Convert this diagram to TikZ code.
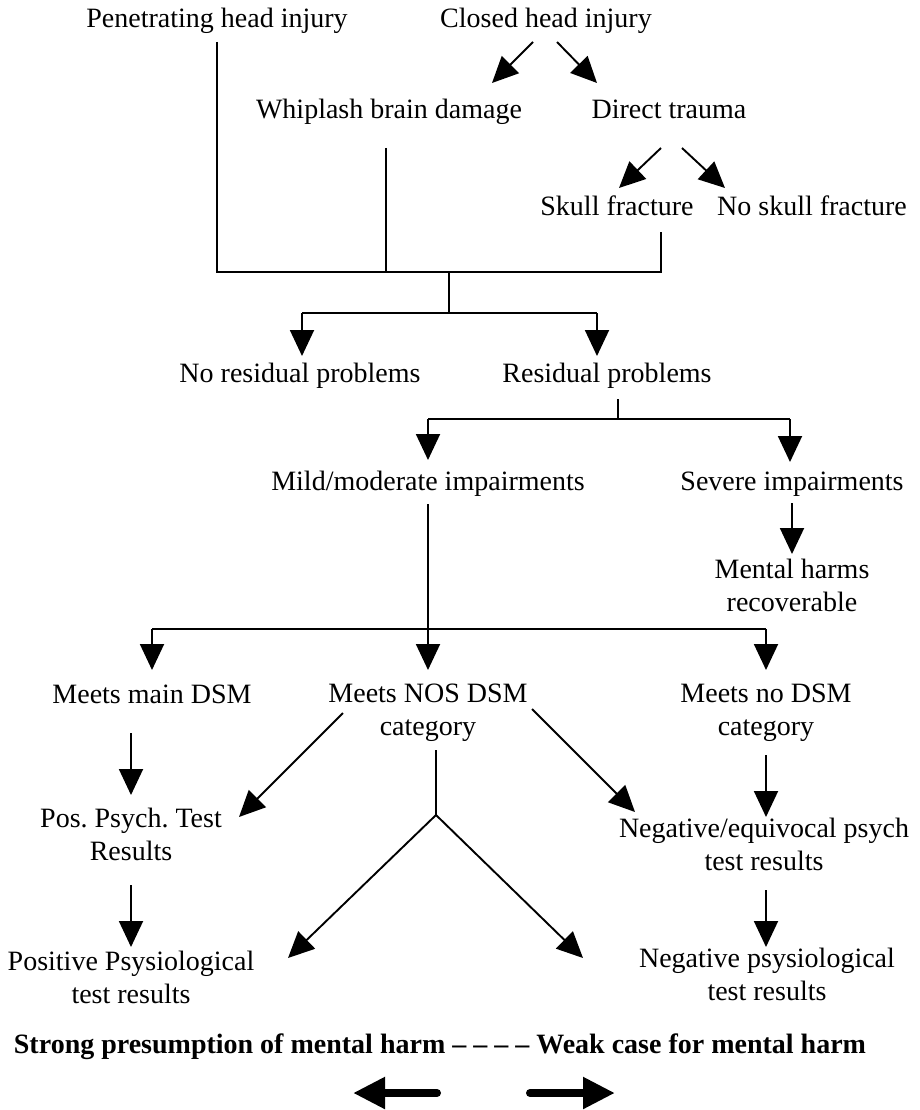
\documentclass[tikz,border=0pt]{standalone}
\usepackage{fontspec}
\setmainfont{Liberation Serif}
\usetikzlibrary{arrows.meta}
\frenchspacing
\begin{document}
\begin{tikzpicture}[x=1pt,y=-1pt,
  lbl/.style={anchor=base,inner sep=0pt,align=center,font=\fontsize{28}{33}\selectfont},
  legend/.style={anchor=base,inner sep=0pt,font=\fontsize{28}{33}\selectfont\bfseries},
  wire/.style={line width=1.9pt},
  arr/.style={wire,-{Triangle[length=26pt,width=24pt]}},
  fatarr/.style={line width=8pt,line cap=round,-{Triangle[length=32pt,width=30pt]}}]
\useasboundingbox (0,0) rectangle (920,1110);

% ---- labels (two-line labels are placed by the baseline of their last line) ----
\node[lbl] (pen)     at (217,28)  {Penetrating head injury};
\node[lbl] (closed)  at (546,28)  {Closed head injury};
\node[lbl] (whip)    at (389,119) {Whiplash brain damage};
\node[lbl] (direct)  at (669,119) {Direct trauma};
\node[lbl] (skull)   at (617,215) {Skull fracture};
\node[lbl] (noskull) at (812,215) {No skull fracture};
\node[lbl] (nores)   at (300,382) {No residual problems};
\node[lbl] (res)     at (607,382) {Residual problems};
\node[lbl] (mild)    at (428,490) {Mild/moderate impairments};
\node[lbl] (severe)  at (792,490) {Severe impairments};
\node[lbl] (mental)  at (792,611) {Mental harms\\recoverable};
\node[lbl] (main)    at (152,703) {Meets main DSM};
\node[lbl] (nos)     at (428,735) {Meets NOS DSM\\category};
\node[lbl] (nodsm)   at (766,735) {Meets no DSM\\category};
\node[lbl] (pos)     at (131,860) {Pos. Psych. Test\\Results};
\node[lbl] (negeq)   at (764,870) {Negative/equivocal psych\\test results};
\node[lbl] (posphys) at (131,1003) {Positive Psysiological\\test results};
\node[lbl] (negphys) at (767,1000) {Negative psysiological\\test results};
\node[legend] (scale) at (440,1053) {Strong presumption of mental harm – – – – Weak case for mental harm};

% ---- connector end points ----
\coordinate (penB)   at (217,42);
\coordinate (whipB)  at (386,148);
\coordinate (skullB) at (661,232);
\coordinate (mergeL) at (217,272);
\coordinate (mergeW) at (386,272);
\coordinate (mergeR) at (661,272);
\coordinate (mergeC) at (449,272);
\coordinate (splitA) at (449,313);
\coordinate (splitL) at (302,313);
\coordinate (splitR) at (597,313);
\coordinate (noresT) at (302,356);
\coordinate (resT)   at (597,356);

\coordinate (closedL) at (533,42);
\coordinate (closedR) at (557,42);
\coordinate (whipT)   at (492,83);
\coordinate (directT) at (597,83);
\coordinate (directL) at (661,148);
\coordinate (directR) at (682,148);
\coordinate (skullT)  at (619,188);
\coordinate (noskullT) at (725,188);

\coordinate (resB)   at (618,399);
\coordinate (splitB) at (618,419);
\coordinate (splitBL) at (428,419);
\coordinate (splitBR) at (790,419);
\coordinate (mildT)  at (428,460);
\coordinate (severeT) at (790,462);
\coordinate (severeB) at (792,503);
\coordinate (mentalT) at (792,554);

\coordinate (mildB)  at (428,504);
\coordinate (splitC) at (428,629);
\coordinate (splitCL) at (152,629);
\coordinate (splitCR) at (766,629);
\coordinate (mainT)  at (152,670);
\coordinate (nosT)   at (428,670);
\coordinate (nodsmT) at (766,670);

\coordinate (mainB)  at (131,733);
\coordinate (posT)   at (131,795);
\coordinate (nosL)   at (343,713);
\coordinate (posR)   at (239,817);
\coordinate (nosR)   at (532,709);
\coordinate (negeqL) at (635,812);
\coordinate (nosB)   at (436,750);
\coordinate (fork)   at (436,815);
\coordinate (forkL)  at (288,958);
\coordinate (forkR)  at (583,958);
\coordinate (nodsmB) at (766,755);
\coordinate (negeqT) at (766,817);
\coordinate (posB)   at (131,885);
\coordinate (posphysT) at (131,947);
\coordinate (negeqB) at (766,890);
\coordinate (negphysT) at (766,947);

\coordinate (strongS) at (437,1093);
\coordinate (strongE) at (353,1093);
\coordinate (weakS)   at (530,1093);
\coordinate (weakE)   at (615,1093);

% ---- head injury merge ----
\draw[wire] (penB) -- (mergeL) -- (mergeR) -- (skullB);
\draw[wire] (whipB) -- (mergeW);
\draw[wire] (mergeC) -- (splitA);
\draw[wire] (splitL) -- (splitR);
\draw[arr] (splitL) -- (noresT);
\draw[arr] (splitR) -- (resT);

\draw[arr] (closedL) -- (whipT);
\draw[arr] (closedR) -- (directT);
\draw[arr] (directL) -- (skullT);
\draw[arr] (directR) -- (noskullT);

% ---- residual problems ----
\draw[wire] (resB) -- (splitB);
\draw[wire] (splitBL) -- (splitBR);
\draw[arr] (splitBL) -- (mildT);
\draw[arr] (splitBR) -- (severeT);
\draw[arr] (severeB) -- (mentalT);

% ---- DSM categories ----
\draw[wire] (mildB) -- (splitC);
\draw[wire] (splitCL) -- (splitCR);
\draw[arr] (splitCL) -- (mainT);
\draw[arr] (splitC) -- (nosT);
\draw[arr] (splitCR) -- (nodsmT);

\draw[arr] (mainB) -- (posT);
\draw[arr] (nosL) -- (posR);
\draw[arr] (nosR) -- (negeqL);
\draw[wire] (nosB) -- (fork);
\draw[arr] (fork) -- (forkL);
\draw[arr] (fork) -- (forkR);
\draw[arr] (nodsmB) -- (negeqT);
\draw[arr] (posB) -- (posphysT);
\draw[arr] (negeqB) -- (negphysT);

% ---- scale arrows ----
\draw[fatarr] (strongS) -- (strongE);
\draw[fatarr] (weakS) -- (weakE);
\end{tikzpicture}
\end{document}
